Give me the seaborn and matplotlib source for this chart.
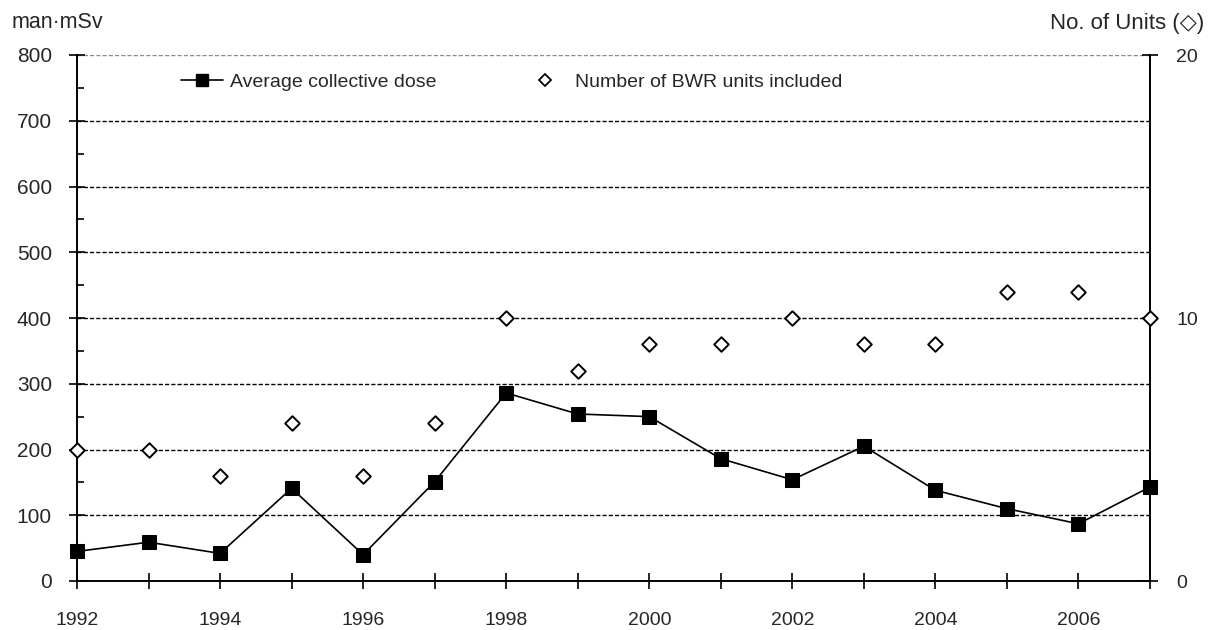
import matplotlib
matplotlib.use("Agg")
import matplotlib.pyplot as plt
from matplotlib.ticker import MultipleLocator
from matplotlib.lines import Line2D
import seaborn as sns
import pandas as pd

years = list(range(1992, 2008))
avg_dose = [45, 59, 42, 141, 40, 151, 286, 254, 250, 186, 154, 205, 138, 110, 87, 143]
bwr_units = [5, 5, 4, 6, 4, 6, 10, 8, 9, 9, 10, 9, 9, 11, 11, 10]

df = pd.DataFrame({"year": years, "dose": avg_dose, "units": bwr_units})

sns.set_theme(style="white")
plt.rcParams["font.family"] = ["Liberation Sans", "DejaVu Sans"]

W, H = 1214, 630
fig = plt.figure(figsize=(W / 100, H / 100), dpi=100)
L, R, T, B = 77, 1150, 55, 581
ax = fig.add_axes([L / W, 1 - B / H, (R - L) / W, (B - T) / H])
ax2 = ax.twinx()

# horizontal dashed gridlines
for v in range(100, 900, 100):
    ax.axhline(v, color="black" if v < 800 else "#8a8a8a", lw=1.0,
               ls=(0, (3, 1.5)), zorder=0)

sns.lineplot(data=df, x="year", y="dose", ax=ax, color="black", lw=1.2,
             marker="s", markersize=10, markeredgecolor="black",
             markerfacecolor="black", clip_on=False, zorder=3)
sns.scatterplot(data=df, x="year", y="units", ax=ax2, marker="D", s=55,
                facecolor="white", edgecolor="black", linewidth=1.4,
                clip_on=False, zorder=4)

ax.set_xlim(1992, 2007)
ax.set_ylim(0, 800)
ax2.set_ylim(0, 20)
ax.set_xlabel("")
ax.set_ylabel("")
ax2.set_ylabel("")

ax.xaxis.set_major_locator(MultipleLocator(2))
ax.xaxis.set_minor_locator(MultipleLocator(1))
ax.yaxis.set_major_locator(MultipleLocator(100))
ax.yaxis.set_minor_locator(MultipleLocator(50))
ax2.yaxis.set_major_locator(MultipleLocator(10))

for a in (ax, ax2):
    for s in a.spines.values():
        s.set_visible(False)
for s in (ax.spines["left"], ax.spines["bottom"], ax2.spines["right"]):
    s.set_visible(True)
    s.set_color("black")
    s.set_linewidth(1.4)

ax.tick_params(axis="x", which="both", direction="inout", length=12,
               width=1.2, color="black", labelsize=14, pad=16, bottom=True)
ax.tick_params(axis="y", which="major", direction="inout", length=12,
               width=1.2, color="black", labelsize=15, pad=12, left=True)
ax.tick_params(axis="y", which="minor", direction="in", length=5,
               width=1.2, color="black", left=True)
ax2.tick_params(axis="y", which="major", direction="inout", length=12,
                width=1.2, color="black", labelsize=14, pad=13, right=True)

# legend entries
h_dose = Line2D([], [], color="black", lw=1.2, marker="s", markersize=9,
                markerfacecolor="black")
h_units = Line2D([], [], color="none", marker="D", markersize=6,
                 markerfacecolor="white", markeredgecolor="black",
                 markeredgewidth=1.3)
leg_y = (B - 82) / (B - T)
leg1 = ax.legend([h_dose], ["Average collective dose"], frameon=False,
                 loc="center left", bbox_to_anchor=((181 - L) / (R - L), leg_y),
                 fontsize=14, handlelength=2.16, handletextpad=0.36,
                 borderpad=0, borderaxespad=0)
ax.add_artist(leg1)
ax.legend([h_units], ["Number of BWR units included"], frameon=False,
          loc="center left", bbox_to_anchor=((524 - L) / (R - L), leg_y),
          fontsize=14, handlelength=2.16, handletextpad=0.46,
          borderpad=0, borderaxespad=0)

fig.text(12 / W, 1 - 23 / H, "man·mSv", ha="left", va="center", fontsize=15.5)
fig.text(1204 / W, 1 - 23 / H, "No. of Units (◇)", ha="right", va="center",
         fontsize=16)

fig.savefig("out.png", dpi=100)
